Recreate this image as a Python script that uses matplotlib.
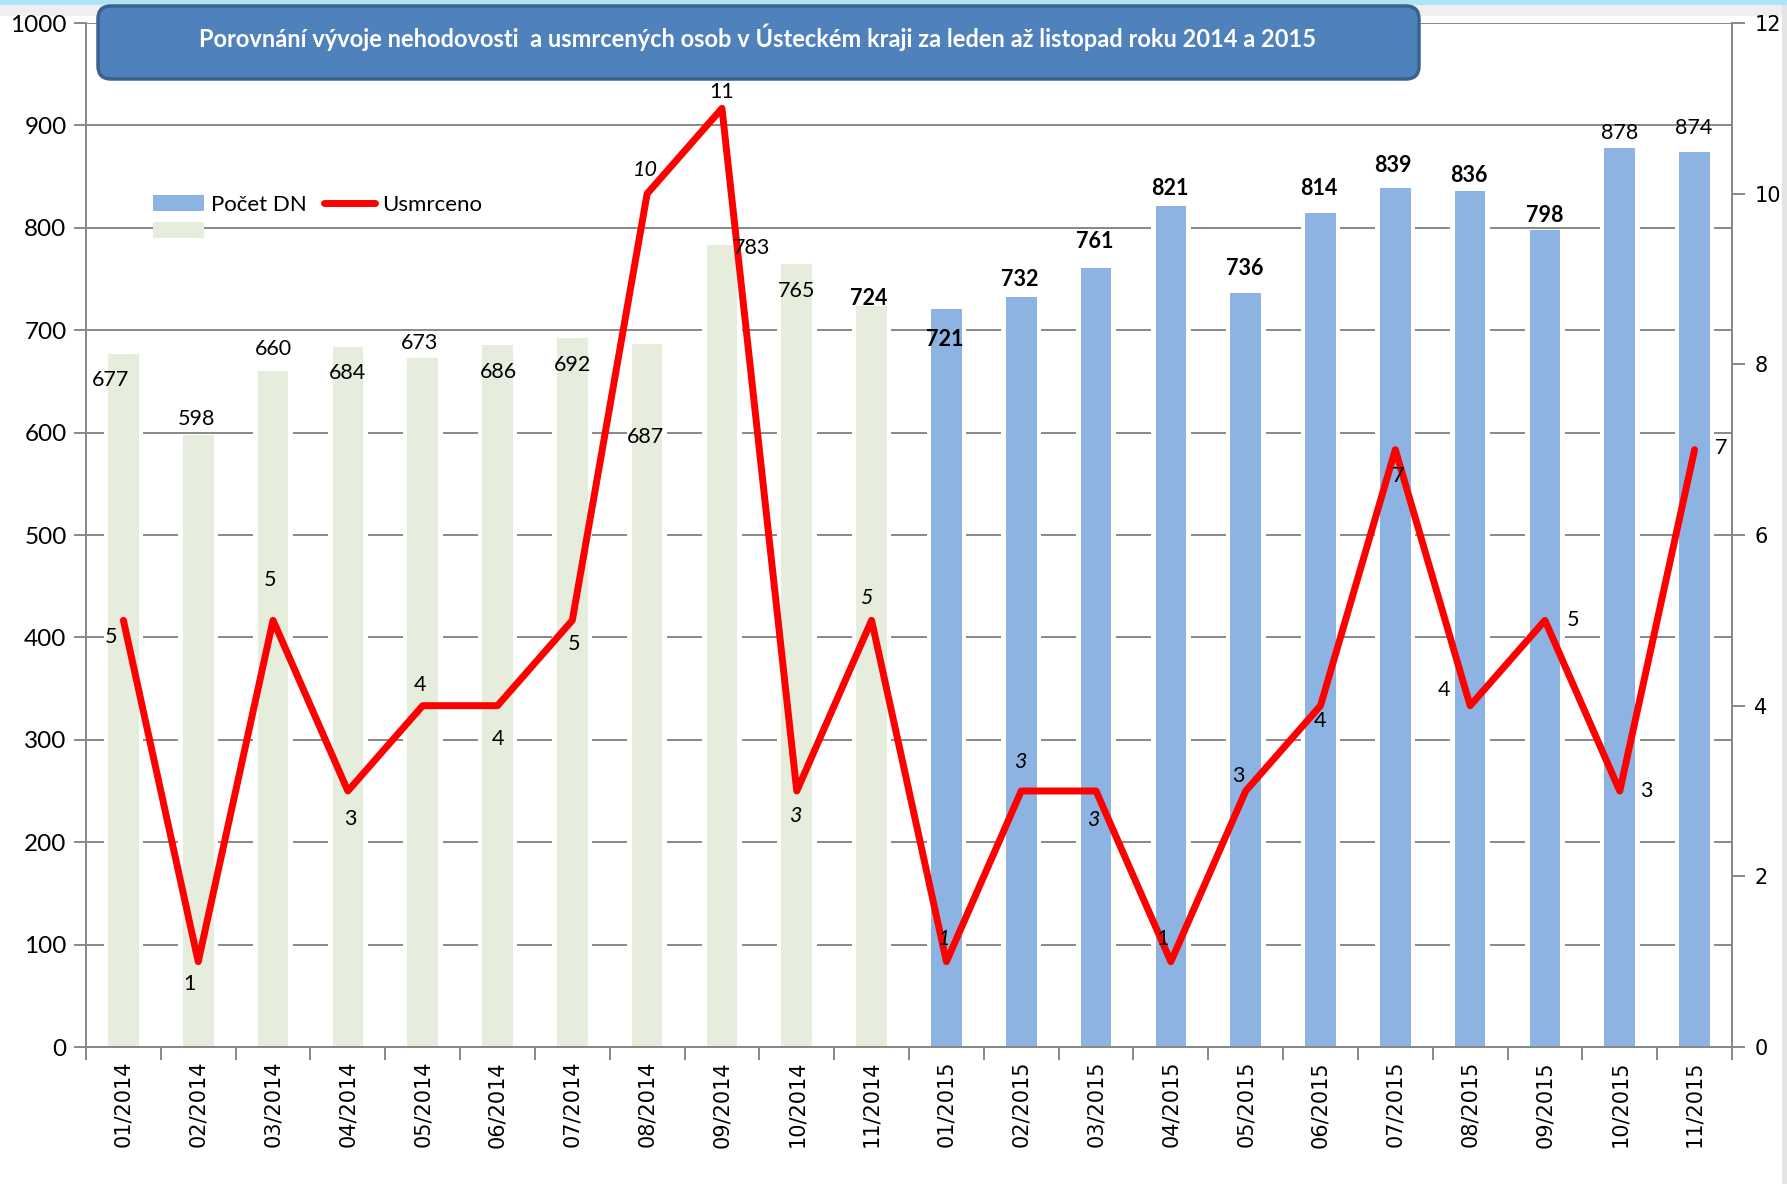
import matplotlib
matplotlib.use("Agg")
import matplotlib.pyplot as plt
from matplotlib.patches import Patch, Rectangle, FancyBboxPatch
from matplotlib.lines import Line2D
import matplotlib.transforms as mtransforms
import numpy as np

# ---------------- data ----------------
months = ["01/2014", "02/2014", "03/2014", "04/2014", "05/2014", "06/2014",
          "07/2014", "08/2014", "09/2014", "10/2014", "11/2014",
          "01/2015", "02/2015", "03/2015", "04/2015", "05/2015", "06/2015",
          "07/2015", "08/2015", "09/2015", "10/2015", "11/2015"]
pocet_dn = [677, 598, 660, 684, 673, 686, 692, 687, 783, 765, 724,
            721, 732, 761, 821, 736, 814, 839, 836, 798, 878, 874]
usmrceno = [5, 1, 5, 3, 4, 4, 5, 10, 11, 3, 5,
            1, 3, 3, 1, 3, 4, 7, 4, 5, 3, 7]
years = ["2014"] * 11 + ["2015"] * 11
title = "Porovnání vývoje nehodovosti  a usmrcených osob v Ústeckém kraji za leden až listopad roku 2014 a 2015"
legend_labels = ["Počet DN", "Usmrceno"]
left_ticks = list(range(0, 1001, 100))
right_ticks = list(range(0, 13, 2))

# ---------------- styles ----------------
col_2014 = "#E6EDDD"
col_2015 = "#8DB3E2"
col_line = "#FF0000"
grid_col = "#888888"
FONT = "Lato"

# label offsets (points) and styles
bar_off = [(-9, -19), (-1, 11), (0, 16), (0, -19), (-2, 11), (1, -20), (0, -19),
           (-1, -67), (21, -2), (0, -20), (-2, 5), (-1, -22), (-1, 13), (-1, 19),
           (-1, 13), (-1, 18), (-1, 18), (-2, 16), (-1, 11), (0, 10), (0, 11), (-1, 17)]
bar_bold = [False] * 10 + [True] * 10 + [False] * 2
line_off = [(-9, -12), (-6, -16), (-2, 29), (2, -20), (-2, 15), (0, -24), (1, -17),
            (-1, 17), (0, 12), (-1, -18), (-4, 16), (-2, 16), (-1, 21), (-2, -21),
            (-6, 16), (-5, 11), (0, -11), (2, -19), (-19, 11), (20, 0), (19, 0), (19, 1)]
line_italic = [False] * 7 + [True, False, True, True, True, True, True] + [False] * 8

W, H = 1787, 1184
fig = plt.figure(figsize=(W / 100, H / 100), dpi=100)
fig.patch.set_facecolor("white")
px = mtransforms.Affine2D().scale(1.0 / 100) + fig.dpi_scale_trans

# window-like border strips
fig.patches.append(Rectangle((0, H - 16), W, 11, transform=px, facecolor="#EFEFEF", edgecolor="none", zorder=-2))
fig.patches.append(Rectangle((0, H - 5), W, 5, transform=px, facecolor="#AEE5F5", edgecolor="none", zorder=-1))
fig.patches.append(Rectangle((W - 5, 0), 5, H - 5, transform=px, facecolor="#E4E4E4", edgecolor="none", zorder=-1))

x0, x1, yb, yt = 86, 1732, 1047, 23
ax = fig.add_axes([x0 / W, (H - yb) / H, (x1 - x0) / W, (yb - yt) / H])
ax2 = ax.twinx()

x = np.arange(len(months))
colors = [col_2014 if y == "2014" else col_2015 for y in years]

ax.set_axisbelow(True)
ax.yaxis.grid(True, color=grid_col, lw=1.4, zorder=0)
ax.bar(x, pocet_dn, width=0.53, color="white", zorder=1)
ax.bar(x, pocet_dn, width=0.41, color=colors, zorder=2)
ax.set_xlim(-0.5, len(months) - 0.5)
ax.set_ylim(0, 1000)
ax.set_yticks(left_ticks)
ax.set_yticklabels([str(t) for t in left_ticks], fontfamily=FONT, fontsize=17.5)

ax2.plot(x, usmrceno, color=col_line, lw=5, solid_joinstyle="round", solid_capstyle="round", zorder=3)
ax2.set_ylim(0, 12)
ax2.set_yticks(right_ticks)
ax2.set_yticklabels([str(t) for t in right_ticks], fontfamily="DejaVu Sans", fontsize=15)

# x axis: ticks at boundaries, labels at centres
ax.set_xticks(np.arange(len(months) + 1) - 0.5)
ax.set_xticklabels([])
ax.set_xticks(x, minor=True)
ax.set_xticklabels(months, minor=True, rotation=90, fontfamily="DejaVu Sans", fontsize=15)
ax.tick_params(axis="x", which="major", direction="out", length=9, width=1.4, color=grid_col)
ax.tick_params(axis="x", which="minor", length=0, pad=10)
ax.tick_params(axis="y", direction="out", length=9, width=1.4, color=grid_col, pad=5)
ax2.tick_params(axis="y", direction="out", length=9, width=1.4, color=grid_col, pad=7)

for a in (ax, ax2):
    for s in a.spines.values():
        s.set_color(grid_col)
        s.set_linewidth(1.4)
    a.spines["top"].set_visible(False)

# data labels
for i, v in enumerate(pocet_dn):
    ax2.annotate(str(v), xy=(i, v), xycoords=ax.transData, xytext=bar_off[i],
                 textcoords="offset points", ha="center", va="center",
                 fontfamily=FONT, fontsize=15.5,
                 fontweight="bold" if bar_bold[i] else "normal", zorder=5)
for i, v in enumerate(usmrceno):
    ax2.annotate(str(v), xy=(i, v), xycoords=ax2.transData, xytext=line_off[i],
                 textcoords="offset points", ha="center", va="center",
                 fontfamily=FONT, fontsize=15.5,
                 fontstyle="italic" if line_italic[i] else "normal", zorder=5)

# legend
handles = [Patch(facecolor=col_2015, edgecolor="none"),
           Patch(facecolor=col_2014, edgecolor="none"),
           Line2D([], [], color=col_line, lw=5, solid_capstyle="round")]
leg = ax2.legend(handles, [legend_labels[0], "", legend_labels[1]], ncol=2,
                 loc="upper left", bbox_to_anchor=(153 / W, 1 - 195 / H),
                 bbox_transform=fig.transFigure, frameon=False, borderpad=0,
                 borderaxespad=0, handlelength=2.3, handletextpad=0.3,
                 columnspacing=0.8, labelspacing=0.3,
                 prop={"family": FONT, "size": 16})

# title box
box = FancyBboxPatch((98, H - 79), 1321, 73, transform=px,
                     boxstyle="round,pad=0,rounding_size=13",
                     facecolor="#4F81BD", edgecolor="#3B6191", lw=2.5, zorder=10)
fig.patches.append(box)
t = fig.text(757.5, H - 37, title, transform=px, ha="center", va="center",
             color="white", fontfamily=FONT, fontweight="bold", fontsize=16, zorder=11)
fig.canvas.draw()
w = t.get_window_extent().width
t.set_fontsize(16 * 1121 / w)

fig.savefig("out.png", dpi=100, facecolor="white")
